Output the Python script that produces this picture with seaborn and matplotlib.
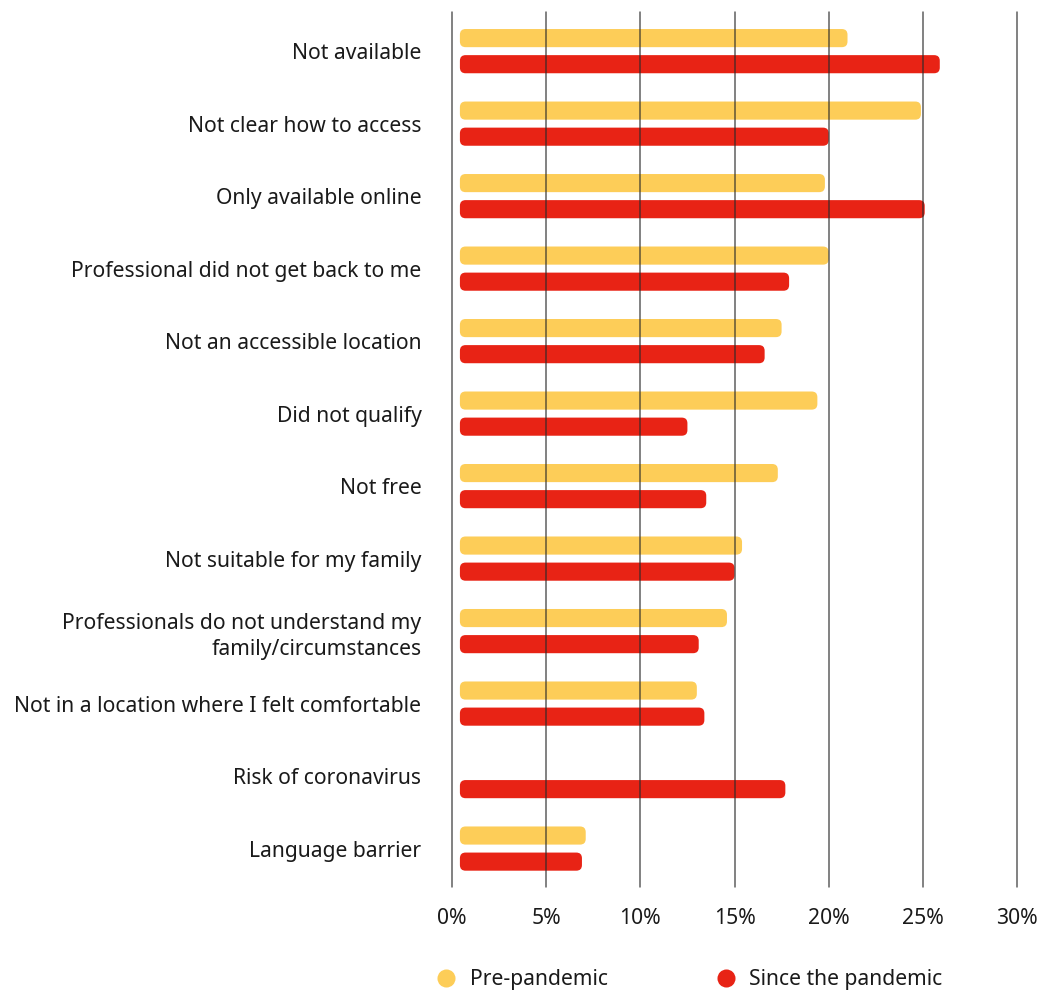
import numpy as np
import pandas as pd
import matplotlib
matplotlib.use("Agg")
import matplotlib.pyplot as plt
from matplotlib.patches import FancyBboxPatch
from matplotlib.lines import Line2D
import seaborn as sns

categories = [
    "Not available",
    "Not clear how to access",
    "Only available online",
    "Professional did not get back to me",
    "Not an accessible location",
    "Did not qualify",
    "Not free",
    "Not suitable for my family",
    "Professionals do not understand my\nfamily/circumstances",
    "Not in a location where I felt comfortable",
    "Risk of coronavirus",
    "Language barrier",
]
pre_pandemic = [21.0, 24.9, 19.8, 20.0, 17.5, 19.4, 17.3, 15.4, 14.6, 13.0, np.nan, 7.1]
since_pandemic = [25.9, 20.0, 25.1, 17.9, 16.6, 12.5, 13.5, 15.0, 13.1, 13.4, 17.7, 6.9]
series_names = ["Pre-pandemic", "Since the pandemic"]
colors = ["#FDCD58", "#E82315"]
tick_values = [0, 5, 10, 15, 20, 25, 30]

df = pd.DataFrame({
    "category": categories * 2,
    "value": pre_pandemic + since_pandemic,
    "series": [series_names[0]] * len(categories) + [series_names[1]] * len(categories),
})

sns.set_theme(style="white")
plt.rcParams["font.family"] = ["Noto Sans", "DejaVu Sans"]
text_color = "#1a1a1a"
fs = 15.2

fig = plt.figure(figsize=(10.44, 9.93), dpi=100)
ax = fig.add_axes([452 / 1044, 1 - 887 / 993, 565 / 1044, 875 / 993])

sns.barplot(data=df, y="category", x="value", hue="series", order=categories,
            hue_order=series_names, palette=colors, width=0.72, orient="h",
            ax=ax, legend=False, saturation=1)

ax.set_xlim(0, 30)
ax.set_ylim(11.53, -0.54)

# convert rectangles into rounded bars
bar_h = 0.25
start = 0.42
px_per_x = 565 / 30
px_per_y = 875 / 12.07
patches = list(ax.patches)
for p in patches:
    w = p.get_width()
    if not np.isfinite(w) or w <= 0:
        p.remove()
        continue
    yc = p.get_y() + p.get_height() / 2
    fc = p.get_facecolor()
    p.remove()
    fb = FancyBboxPatch((start, yc - bar_h / 2), w - start, bar_h,
                        boxstyle="round,pad=0,rounding_size=0.3",
                        mutation_aspect=px_per_x / px_per_y,
                        facecolor=fc, edgecolor="none", zorder=2)
    ax.add_patch(fb)

for t in tick_values:
    ax.axvline(t, color="#2a2a2a", lw=1.1, alpha=0.75, zorder=3, clip_on=False)

ax.set_xticks(tick_values)
ax.set_xticklabels([f"{t}%" for t in tick_values], fontsize=fs, color=text_color)
ax.tick_params(axis="x", length=0, pad=15)
ax.tick_params(axis="y", length=0, pad=22)
for lab in ax.get_yticklabels():
    lab.set_fontsize(fs)
    lab.set_color(text_color)
    lab.set_linespacing(1.35)
ax.set_xlabel("")
ax.set_ylabel("")
for s in ax.spines.values():
    s.set_visible(False)

handles = [Line2D([0], [0], marker="o", linestyle="none", markersize=13,
                  markerfacecolor=c, markeredgecolor="none") for c in colors]
fig.legend(handles, series_names, loc="center", bbox_to_anchor=(0.655, 1 - 980 / 993),
           ncol=2, frameon=False, fontsize=fs, handletextpad=0.1, columnspacing=4.6,
           labelcolor=text_color)

fig.savefig("out.png", dpi=100, facecolor="white")
